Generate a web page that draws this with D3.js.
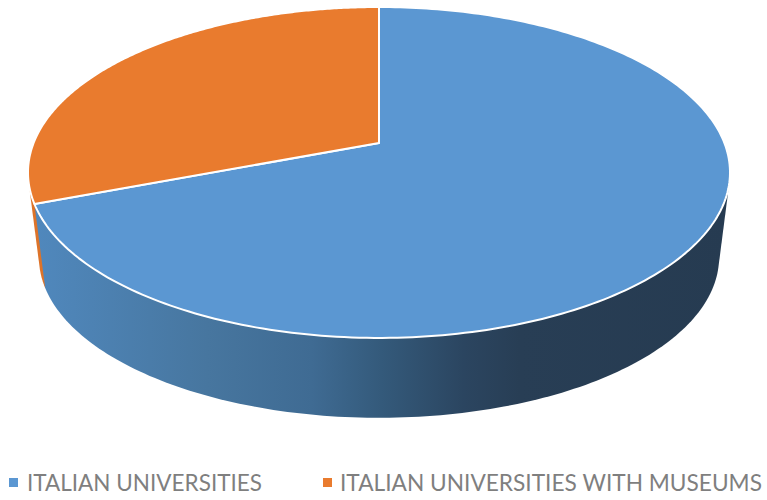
<!DOCTYPE html>
<html>
<head>
<meta charset="utf-8">
<style>
  html, body { margin: 0; padding: 0; background: #fff; }
  svg { display: block; }
</style>
<script src="https://cdn.jsdelivr.net/npm/d3@7"></script>
</head>
<body>
<svg id="chart" width="767" height="500"></svg>
<script>
const categories = ["ITALIAN UNIVERSITIES", "ITALIAN UNIVERSITIES WITH MUSEUMS"];
const shares = [69.2, 30.8];
const colors = ["#5b97d2", "#e97b2e"];
const sideColor = "#dd7329";
const sideStops = [
  [0, "#5088bd"], [0.25, "#47769f"], [0.4, "#3f6b93"], [0.5, "#345a7b"],
  [0.62, "#2b4560"], [0.7, "#283e55"], [1, "#263b51"]
];

const svg = d3.select("#chart");

// Perspective disc: p is the foreshortening of the tilted plane.
const p = 0.178;
const disc = (ox, oy, ax, ay) => a => {
  const u = Math.sin(a), v = -Math.cos(a), w = 1 - p * v;
  return [ox + ax * u / w, oy + ay * v / w];
};
const topRim = disc(379, 143, 345.4, 160.2);
const bottomRim = disc(379, 229, 334.6, 155.2);

const arcs = d3.pie().sort(null)(shares);
const sample = (a0, a1, n = 240) => d3.range(n + 1).map(i => a0 + (a1 - a0) * i / n);
const line = d3.line();

const grad = svg.append("defs").append("linearGradient")
  .attr("id", "wall")
  .attr("gradientUnits", "userSpaceOnUse")
  .attr("x1", 34).attr("x2", 728).attr("y1", 0).attr("y2", 0);
grad.selectAll("stop").data(sideStops).join("stop")
  .attr("offset", d => d[0])
  .attr("stop-color", d => d[1]);

// Side walls: hull of the two rims along each slice, back slice first.
svg.append("g").selectAll("path").data(arcs.slice().reverse()).join("path")
  .attr("d", d => {
    const as = sample(d.startAngle, d.endAngle);
    return line(d3.polygonHull([...as.map(topRim), ...as.map(bottomRim)])) + "Z";
  })
  .attr("fill", d => d.index === 0 ? "url(#wall)" : sideColor);

// Top face of the disc, with white slice borders.
svg.append("g").selectAll("path").data(arcs).join("path")
  .attr("d", d => line([[379, 143], ...sample(d.startAngle, d.endAngle).map(topRim)]) + "Z")
  .attr("fill", (d, i) => colors[i])
  .attr("stroke", "#fff")
  .attr("stroke-width", 2)
  .attr("stroke-linejoin", "round");

// Legend
const legendX = [9, 323];
const textX = [27, 340];
const textW = [235, 422];
const legend = svg.append("g").selectAll("g").data(categories).join("g");
legend.append("rect")
  .attr("x", (d, i) => legendX[i]).attr("y", 478)
  .attr("width", 9).attr("height", 9)
  .attr("fill", (d, i) => colors[i]);
legend.append("text")
  .attr("x", (d, i) => textX[i]).attr("y", 491)
  .attr("textLength", (d, i) => textW[i])
  .attr("lengthAdjust", "spacingAndGlyphs")
  .attr("font-family", "Lato, 'Open Sans', sans-serif")
  .attr("font-size", 23)
  .attr("fill", "#7f7f7f")
  .text(d => d);
</script>
</body>
</html>
